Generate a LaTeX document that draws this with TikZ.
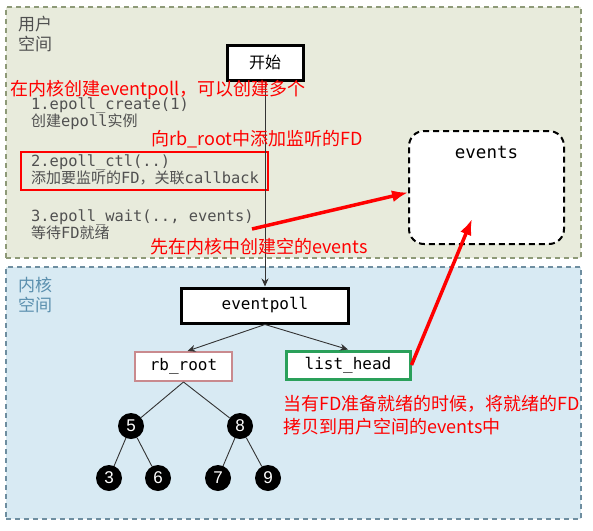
\documentclass[tikz,border=0pt]{standalone}
\usepackage{fontspec}
\setmainfont{Noto Sans CJK SC}
\newfontfamily\cjk{Noto Sans CJK SC}
\newfontfamily\mono{DejaVu Sans Mono}
\newfontfamily\numfont{Liberation Sans}
\usetikzlibrary{arrows.meta,calc}
\definecolor{userbg}{HTML}{E8EBDC}
\definecolor{userbd}{HTML}{8E9A78}
\definecolor{kernbg}{HTML}{D8EAF3}
\definecolor{kernbd}{HTML}{6E8EA0}
\definecolor{graytxt}{HTML}{505050}
\definecolor{kerntxt}{HTML}{5A8FAE}
\definecolor{rbpink}{HTML}{C98A8E}
\definecolor{lhgreen}{HTML}{2AA05A}
\definecolor{redtxt}{HTML}{FF0000}
\tikzset{
  region/.style={draw, dashed, line width=1.5pt, dash pattern=on 5pt off 4pt, inner sep=0pt},
  boxnode/.style={draw=black, fill=white, line width=3pt, inner sep=0pt, font=\mono\fontsize{16}{19}\selectfont},
  numnode/.style={circle, fill=black, minimum size=26pt, inner sep=0pt, text=white, font=\numfont\fontsize{17}{20}\selectfont},
  redtext/.style={anchor=base west, inner sep=0pt, text=redtxt, font=\cjk\fontsize{18}{21}\selectfont},
  graytext/.style={anchor=base west, inner sep=0pt, text=graytxt, font=\mono\fontsize{15.4}{18}\selectfont},
  regtext/.style={anchor=base west, inner sep=0pt, font=\cjk\fontsize{17}{20}\selectfont},
  treeline/.style={draw=black!80, line width=0.9pt},
  darrow/.style={draw=black!80, line width=0.9pt, -{Stealth[length=8pt,width=7pt]}},
  redarrow/.style={draw=redtxt, line width=3.5pt, -{Latex[length=16pt,width=12pt]}}
}
\begin{document}
\begin{tikzpicture}[x=1pt,y=-1pt]
\useasboundingbox (0,0) rectangle (593,530);
\fill[white] (0,0) rectangle (593,530);
% regions
\node[region, draw=userbd, fill=userbg, minimum width=575pt, minimum height=251pt] (user) at (293.5,132.5) {};
\node[region, draw=kernbd, fill=kernbg, minimum width=575pt, minimum height=252pt] (kernel) at (293.5,393) {};
\node[regtext, text=graytxt] (u1) at (18,30) {用户};
\node[regtext, text=graytxt] (u2) at (18,50) {空间};
\node[regtext, text=kerntxt] (k1) at (18,291) {内核};
\node[regtext, text=kerntxt] (k2) at (18,311) {空间};
% user space text
\node[graytext] (l1) at (31,109) {1.epoll\_create(1)};
\node[graytext] (l2) at (31,126) {{\cjk\fontsize{15}{18}\selectfont 创建}epoll{\cjk\fontsize{15}{18}\selectfont 实例}};
\node[graytext] (l3) at (31,166) {2.epoll\_ctl(..)};
\node[graytext] (l4) at (31,183) {{\cjk\fontsize{15}{18}\selectfont 添加要监听的}FD{\cjk\fontsize{15}{18}\selectfont ，关联}callback};
\node[graytext] (l5) at (31,221) {3.epoll\_wait(.., events)};
\node[graytext] (l6) at (31,238) {{\cjk\fontsize{15}{18}\selectfont 等待}FD{\cjk\fontsize{15}{18}\selectfont 就绪}};
\node[draw=redtxt, line width=2pt, minimum width=247pt, minimum height=38pt, inner sep=0pt] (ctlbox) at (144.5,171) {};
% boxes
\node[boxnode, minimum width=76pt, minimum height=35pt, font=\cjk\fontsize{16}{19}\selectfont] (start) at (265,62.5) {开始};
\node[boxnode, minimum width=167pt, minimum height=35pt] (eventpoll) at (265,305.5) {eventpoll};
\node[boxnode, draw=rbpink, line width=2pt, minimum width=97pt, minimum height=29pt] (rb) at (183.5,366.5) {rb\_root};
\node[boxnode, draw=lhgreen, line width=3pt, minimum width=124pt, minimum height=28pt] (lh) at (348,365) {list\_head};
\node[draw=black, fill=white, dashed, line width=2pt, dash pattern=on 6pt off 4pt, rounded corners=15pt, minimum width=155pt, minimum height=113pt, inner sep=0pt] (events) at (486.5,187.5) {};
\node[anchor=base, inner sep=0pt, font=\mono\fontsize{17.5}{20}\selectfont] (evlabel) at (486.5,158) {events};
% tree
\node[numnode] (n5) at (131,426) {5};
\node[numnode] (n8) at (240,426) {8};
\node[numnode] (n3) at (109,478) {3};
\node[numnode] (n6) at (158,478) {6};
\node[numnode] (n7) at (218,478) {7};
\node[numnode] (n9) at (268,478) {9};
\draw[treeline] (rb.south) -- (n5);
\draw[treeline] (rb.south) -- (n8);
\draw[treeline] (n5) -- (n3);
\draw[treeline] (n5) -- (n6);
\draw[treeline] (n8) -- (n7);
\draw[treeline] (n8) -- (n9);
% black arrows
\draw[darrow] (start.south) -- (eventpoll.north);
\draw[darrow] (eventpoll.south) -- ($(rb.north)+(4,0)$);
\draw[darrow] (eventpoll.south) -- (lh.north);
% red texts
\node[redtext] (r1) at (10,95) {在内核创建eventpoll，可以创建多个};
\node[redtext] (r2) at (151,145) {向rb\_root中添加监听的FD};
\node[redtext] (r3) at (150,253) {先在内核中创建空的events};
\node[redtext] (r4) at (283,410) {当有FD准备就绪的时候，将就绪的FD};
\node[redtext] (r5) at (283,433) {拷贝到用户空间的events中};
% red arrows
\coordinate (ra) at (252,229);
\coordinate (rb2) at (472,219);
\draw[redarrow] (ra) -- ($(events.west)+(0,5)$);
\draw[redarrow] (lh.east) -- (rb2);
\end{tikzpicture}
\end{document}
